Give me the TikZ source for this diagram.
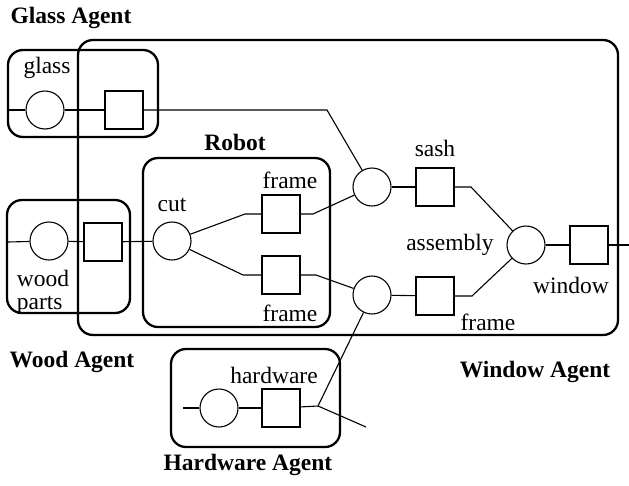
\documentclass[tikz,border=0pt]{standalone}
\usepackage{fontspec}
\setmainfont{Liberation Serif}
\begin{document}
\begin{tikzpicture}[x=1pt,y=-1pt,
  agent/.style={draw,line width=2.3pt,rounded corners=15pt,inner sep=0pt},
  place/.style={draw,circle,line width=1.1pt,minimum size=38pt,inner sep=0pt},
  trans/.style={draw,rectangle,line width=1.1pt,minimum size=38pt,inner sep=0pt},
  arc/.style={line width=1.1pt},
  lbl/.style={font=\fontsize{23.5}{23}\selectfont,inner sep=0pt},
  title/.style={font=\fontsize{23.5}{24}\selectfont\bfseries,inner sep=0pt}]
\useasboundingbox[fill=white] (0,0) rectangle (629,485);

% agent boundaries
\node[agent,minimum width=540pt,minimum height=295pt] (windowbox) at (348,187.5) {};
\node[agent,minimum width=150pt,minimum height=87pt] (glassbox) at (83,93.5) {};
\node[agent,minimum width=123pt,minimum height=113pt] (woodbox) at (68.5,256.5) {};
\node[agent,minimum width=187pt,minimum height=169pt] (robotbox) at (236.5,242.5) {};
\node[agent,minimum width=169pt,minimum height=98pt] (hwbox) at (255.5,398) {};

% titles
\node[title] (tglass) at (71,18) {Glass Agent};
\node[title] (trobot) at (235,142) {Robot};
\node[title] (twood) at (72,362) {Wood Agent};
\node[title] (twindow) at (535,372) {Window Agent};
\node[title] (thw) at (248,465) {Hardware Agent};

% places and transitions
\node[place] (gc) at (45,110) {};
\node[trans] (gsq) at (124,110) {};
\node[place] (wc) at (49,241) {};
\node[trans] (wsq) at (103,242) {};
\node[place] (cut) at (172,241) {};
\node[trans] (fs1) at (281,214) {};
\node[trans] (fs2) at (281,275) {};
\node[place] (c1) at (372,187) {};
\node[place] (c2) at (372,295) {};
\node[trans] (sash) at (435,187) {};
\node[trans] (fs3) at (435,296) {};
\node[place] (asm) at (526,245) {};
\node[trans] (win) at (589,245) {};
\node[place] (hc) at (219,408) {};
\node[trans] (hsq) at (281,408) {};

% labels
\node[lbl] (lglass) at (47,68) {glass};
\node[lbl,align=left] (lwood) at (43,292) {wood\\parts};
\node[lbl] (lcut) at (172,205) {cut};
\node[lbl] (lfs1) at (290,180) {frame};
\node[lbl] (lfs2) at (290,313) {frame};
\node[lbl] (lsash) at (435,148) {sash};
\node[lbl] (lasm) at (450,245) {assembly};
\node[lbl] (lfs3) at (488,322) {frame};
\node[lbl] (lwin) at (571,285) {window};
\node[lbl] (lhw) at (274,375) {hardware};

% bend points and free ends
\coordinate (gin) at (8,110);
\coordinate (win0) at (8,242);
\coordinate (hin) at (183,408);
\coordinate (gb) at (327,110);
\coordinate (cb1) at (245,214);
\coordinate (cb2) at (243,275);
\coordinate (fb1) at (313,214);
\coordinate (fb2) at (316,275);
\coordinate (sb) at (471,187);
\coordinate (fb3) at (472,296);
\coordinate (wout) at (629,245);
\coordinate (hb) at (318,406);
\coordinate (hout) at (366,427);

% arcs
\draw[arc] (gin) -- (gc);
\draw[arc] (gc) -- (gsq);
\draw[arc] (gsq) -- (gb) -- (c1);
\draw[arc] (win0) -- (wc);
\draw[arc] (wc) -- (wsq);
\draw[arc] (wsq) -- (cut);
\draw[arc] (cut) -- (cb1) -- (fs1);
\draw[arc] (cut) -- (cb2) -- (fs2);
\draw[arc] (fs1) -- (fb1) -- (c1);
\draw[arc] (fs2) -- (fb2) -- (c2);
\draw[arc] (c1) -- (sash);
\draw[arc] (c2) -- (fs3);
\draw[arc] (sash) -- (sb) -- (asm);
\draw[arc] (fs3) -- (fb3) -- (asm);
\draw[arc] (asm) -- (win);
\draw[arc] (win) -- (wout);
\draw[arc] (hin) -- (hc);
\draw[arc] (hc) -- (hsq);
\draw[arc] (hsq) -- (hb) -- (c2);
\draw[arc] (hb) -- (hout);
\end{tikzpicture}
\end{document}
